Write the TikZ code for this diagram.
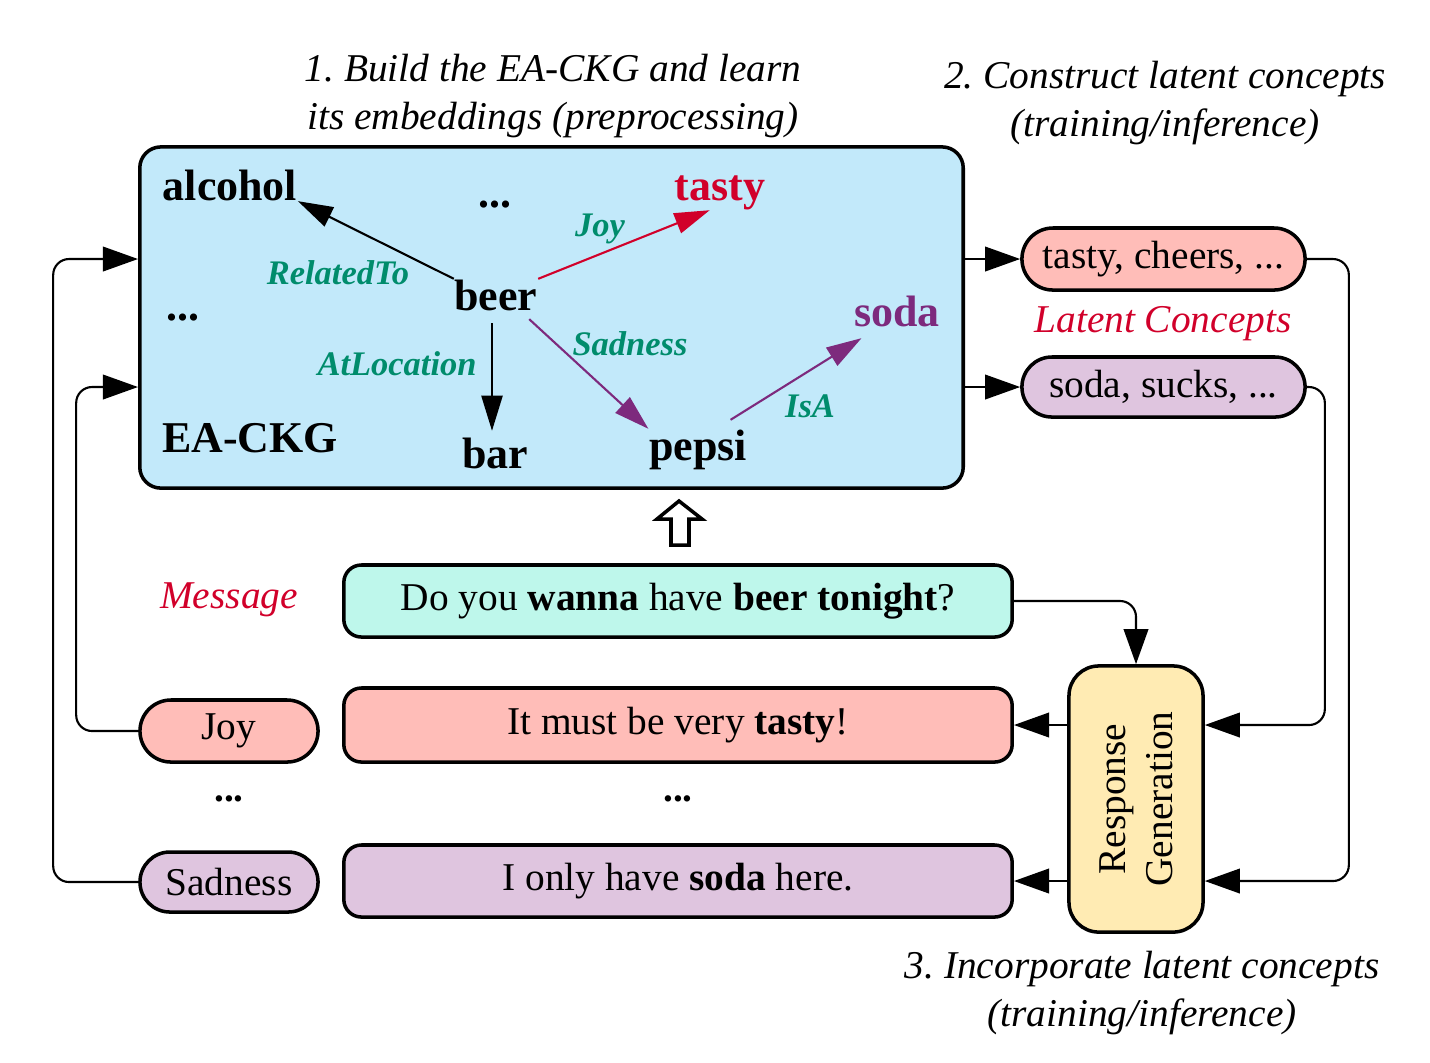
\documentclass[tikz,border=0pt]{standalone}
\usepackage{fontspec}
\setmainfont{Liberation Serif}
\usepackage{xcolor}
\definecolor{ckgblue}{HTML}{C2E9FA}
\definecolor{pinkfill}{HTML}{FFBDB8}
\definecolor{lilac}{HTML}{DFC5DF}
\definecolor{mint}{HTML}{BEF7EB}
\definecolor{cream}{HTML}{FFEBB3}
\definecolor{redtext}{HTML}{D1002A}
\definecolor{purpletext}{HTML}{7D2A7D}
\definecolor{lblgreen}{HTML}{008C6C}
\usetikzlibrary{
  arrows.meta,
  positioning,
  shapes.misc,
  calc
}
\frenchspacing

\begin{document}
\begin{tikzpicture}[
  x=0.01cm, y=-0.01cm,
  every node/.style={font=\fontsize{11.2}{13.4}\selectfont},
  word/.style={inner sep=0pt, anchor=base, font=\fontsize{12.5}{15}\selectfont\bfseries},
  lbl/.style={text=lblgreen, inner sep=0pt, font=\fontsize{9.8}{11.5}\selectfont\bfseries\itshape},
  note/.style={align=center, inner sep=0pt, font=\fontsize{11.2}{13.4}\selectfont\itshape},
  pill/.style={rounded rectangle, draw, line width=1pt, minimum width=1.78cm, minimum height=0.62cm, inner sep=0pt},
  utter/.style={rectangle, rounded corners=5pt, draw, line width=1pt, minimum width=6.68cm, minimum height=0.73cm},
  arr/.style={-{Triangle[length=10pt, width=7pt]}, line width=0.6pt},
  link/.style={arr, rounded corners=4.5pt},
  garr/.style={-{Triangle[length=10pt, width=6pt]}, line width=0.6pt},
]
\useasboundingbox (0,0) rectangle (1430,1062);

% EA-CKG box
\node[draw, line width=1pt, fill=ckgblue, rounded corners=6pt, minimum width=8.23cm, minimum height=3.41cm] (ckg) at (551.5,317.5) {};

% graph words
\node[word] (alcohol) at (230,200) {alcohol};
\node[word, text=redtext] (tasty) at (720,200) {tasty};
\node[word] (beer) at (496,310) {beer};
\node[word, text=purpletext] (soda) at (897,326) {soda};
\node[word] (bar) at (495,468) {bar};
\node[word] (pepsi) at (698,460) {pepsi};
\node[word] (ckgname) at (250,452) {EA-CKG};
\node[word] (dotsA) at (495,207) {...};
\node[word] (dotsB) at (183,320) {...};

% relations
\draw[garr] (beer.north west) -- (alcohol.south east);
\draw[garr, redtext] (beer.north east) -- (tasty.-120);
\draw[garr] ($(beer.south)+(-4,12)$) -- ($(bar.north)+(-3,-6)$);
\draw[garr, purpletext] ($(beer.south east)+(-9,8)$) -- (pepsi.north west);
\draw[garr, purpletext] ($(pepsi.north east)+(-17,-9)$) -- ($(soda.south west)+(8,11)$);

\node[lbl] (lRel) at (338,273) {RelatedTo};
\node[lbl] (lJoy) at (600,229) {Joy};
\node[lbl] (lAt) at (397,364) {AtLocation};
\node[lbl] (lSad) at (630,344) {Sadness};
\node[lbl] (lIsA) at (810,406) {IsA};

% step titles
\node[note] (t1) at (553,96) {1. Build the EA-CKG and learn\\its embeddings (preprocessing)};
\node[note] (t2) at (1165,103) {2. Construct latent concepts\\(training/inference)};
\node[note] (t3) at (1142,993) {3. Incorporate latent concepts\\(training/inference)};

% latent concepts
\node[pill, fill=pinkfill, minimum width=2.83cm] (lat1) at (1163.5,259) {tasty, cheers, ...};
\node[pill, fill=lilac, minimum width=2.83cm, minimum height=0.60cm] (lat2) at (1163.5,387) {soda, sucks, ...};
\node[note, text=redtext] (latname) at (1163,324) {Latent Concepts};

% message and responses
\node[note, text=redtext] (msgname) at (229,600) {Message};
\node[utter, fill=mint, minimum height=0.72cm] (msg) at (678,601) {Do you \textbf{wanna} have \textbf{beer tonight}?};
\node[utter, fill=pinkfill, minimum height=0.74cm] (resp1) at (678,725) {It must be very \textbf{tasty}!};
\node[utter, fill=lilac, minimum height=0.72cm] (resp2) at (678,881) {I only have \textbf{soda} here.};
\node[font=\fontsize{11.2}{13.4}\selectfont\bfseries] (dotsC) at (678,799) {...};

\node[pill, fill=pinkfill] (joy) at (229,731) {Joy};
\node[pill, fill=lilac, minimum height=0.60cm] (sad) at (229,882) {Sadness};
\node[font=\fontsize{11.2}{13.4}\selectfont\bfseries] (dotsD) at (229,799) {...};

% response generation
\node[draw, line width=1pt, fill=cream, rounded corners=8.5pt, minimum width=1.34cm, minimum height=2.66cm] (gen) at (1136,799) {};
\node[rotate=90, align=center] (gentext) at (gen) {Response\\Generation};

% hollow arrow
\draw[line width=1pt, fill=white] (679,501) -- (702,519) -- (689,519) -- (689,545) -- (671,545) -- (671,519) -- (657,519) -- cycle;

% connectors
\draw[arr] (ckg.east |- lat1) -- (lat1);
\draw[arr] (ckg.east |- lat2) -- (lat2);
\draw[link] (lat1.east) -- ++(42,0) |- (gen.east |- resp2);
\draw[link] (lat2.east) -- ++(18,0) |- (gen.east |- resp1);
\draw[link] (msg.east) -| (gen.north);
\draw[arr] (gen.west |- resp1) -- (resp1.east);
\draw[arr] (gen.west |- resp2) -- (resp2.east);
\draw[link] (joy.west) -- ++(-62,0) |- (ckg.west |- lat2);
\draw[link] (sad.west) -- ++(-85,0) |- (ckg.west |- lat1);

\end{tikzpicture}
\end{document}
